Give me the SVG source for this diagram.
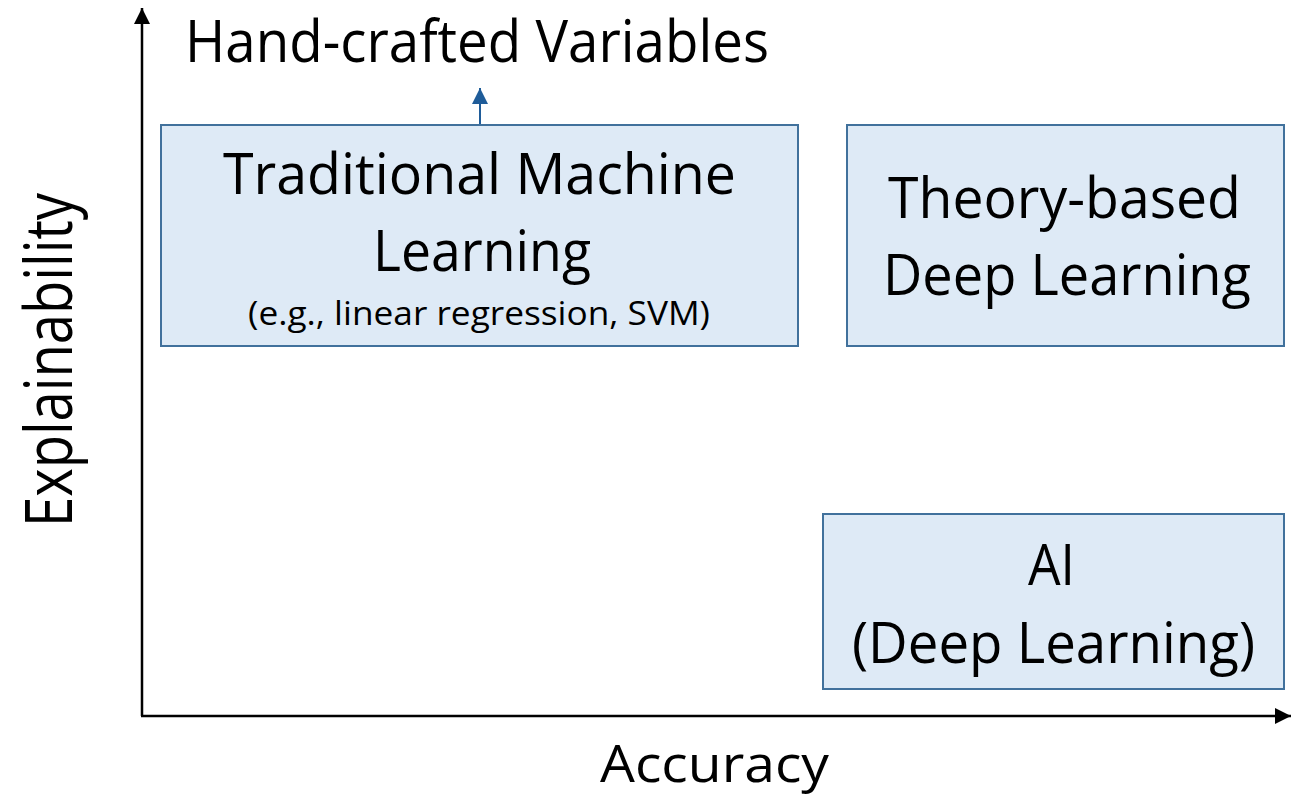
<svg xmlns="http://www.w3.org/2000/svg" width="1292" height="797" viewBox="0 0 1292 797">
<style>
text { font-family: "Open Sans", "Liberation Sans", sans-serif; fill: #000; text-anchor: middle; }
.box { fill: #DEEAF6; stroke: #41719C; stroke-width: 2; }
.big { font-size: 56px; }
.small { font-size: 33px; }
.axis { stroke: #000; stroke-width: 2.5; fill: none; }
.link { stroke: #1F5C99; stroke-width: 2; fill: none; }
</style>
<defs>
<marker id="ah" viewBox="0 0 10 10" refX="10" refY="5" markerWidth="6.4" markerHeight="6.4" markerUnits="strokeWidth" orient="auto">
<path d="M0,0 L10,5 L0,10 Z" fill="#000"/>
</marker>
<marker id="bh" viewBox="0 0 10 10" refX="10" refY="5" markerWidth="8" markerHeight="8" markerUnits="strokeWidth" orient="auto">
<path d="M0,0 L10,5 L0,10 Z" fill="#1F5C99"/>
</marker>
</defs>
<rect width="1292" height="797" fill="#fff"/>
<g id="connectors">
<line class="axis" x1="142" y1="716" x2="142" y2="8" marker-end="url(#ah)"/>
<line class="axis" x1="141" y1="716" x2="1291" y2="716" marker-end="url(#ah)"/>
<line class="link" x1="480" y1="125" x2="480" y2="88" marker-end="url(#bh)"/>
</g>
<g id="label-hand-crafted">
<text x="477" y="62" font-size="58" textLength="584" lengthAdjust="spacingAndGlyphs">Hand-crafted Variables</text>
</g>
<g id="node-traditional">
<rect class="box" x="161" y="125" width="637" height="221"/>
<text class="big" x="479.5" y="194" textLength="513" lengthAdjust="spacingAndGlyphs">Traditional Machine</text>
<text class="big" x="482" y="271" textLength="218" lengthAdjust="spacingAndGlyphs">Learning</text>
<text class="small" x="479" y="325" textLength="462" lengthAdjust="spacingAndGlyphs">(e.g., linear regression, SVM)</text>
</g>
<g id="node-theory">
<rect class="box" x="847" y="125" width="437" height="221"/>
<text class="big" x="1064.5" y="218" textLength="353" lengthAdjust="spacingAndGlyphs">Theory-based</text>
<text class="big" x="1067" y="295" textLength="368" lengthAdjust="spacingAndGlyphs">Deep Learning</text>
</g>
<g id="node-ai">
<rect class="box" x="823" y="514" width="461" height="175"/>
<text class="big" x="1051.5" y="585" textLength="47" lengthAdjust="spacingAndGlyphs">AI</text>
<text class="big" x="1053.5" y="663" textLength="403" lengthAdjust="spacingAndGlyphs">(Deep Learning)</text>
</g>
<g id="axis-labels">
<text x="714.5" y="782" font-size="52" textLength="229" lengthAdjust="spacingAndGlyphs">Accuracy</text>
<text transform="translate(72,360) rotate(-90)" x="0" y="0" font-size="66" textLength="334" lengthAdjust="spacingAndGlyphs">Explainability</text>
</g>
</svg>
